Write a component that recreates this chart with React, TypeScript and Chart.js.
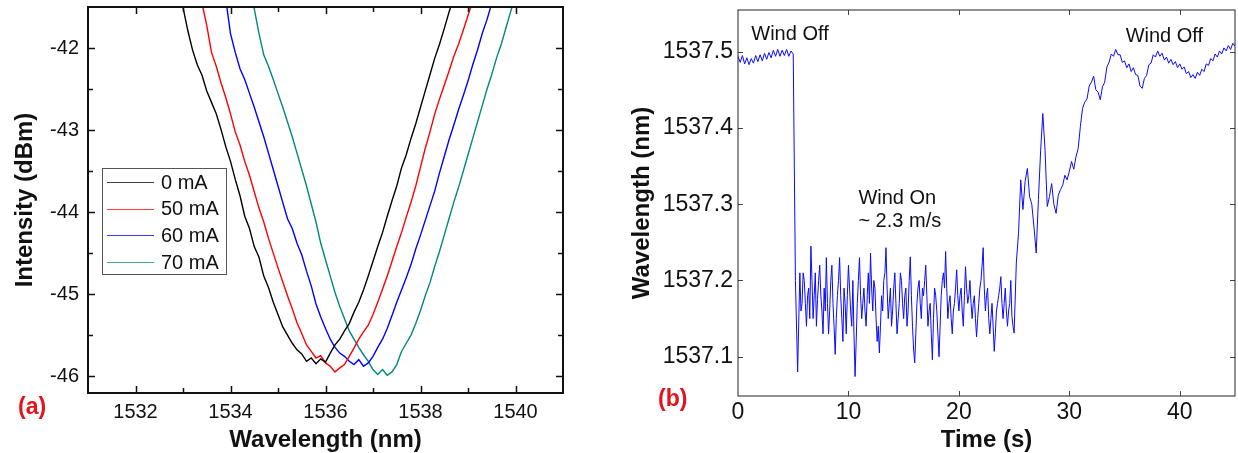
import React, { useEffect, useRef } from 'react';
import { Chart, registerables } from 'chart.js';

Chart.register(...registerables);

const FONT = '"Liberation Sans", Arial, Helvetica, sans-serif';

// ---------------- Panel (a): transmission spectra ----------------
const WAVELENGTH_NM = [
  1532.9, 1533.0, 1533.1, 1533.2, 1533.3, 1533.4, 1533.5, 1533.6, 1533.7, 1533.8,
  1533.9, 1534.0, 1534.1, 1534.2, 1534.3, 1534.4, 1534.5, 1534.6, 1534.7, 1534.8,
  1534.9, 1535.0, 1535.1, 1535.2, 1535.3, 1535.4, 1535.5, 1535.6, 1535.7, 1535.8,
  1535.9, 1536.0, 1536.1, 1536.2, 1536.3, 1536.4, 1536.5, 1536.6, 1536.7, 1536.8,
  1536.9, 1537.0, 1537.1, 1537.2, 1537.3, 1537.4, 1537.5, 1537.6, 1537.7, 1537.8,
  1537.9, 1538.0, 1538.1, 1538.2, 1538.3, 1538.4, 1538.5, 1538.6, 1538.7, 1538.8,
  1538.9, 1539.0, 1539.1, 1539.2, 1539.3, 1539.4, 1539.5, 1539.6, 1539.7, 1539.8,
  1539.9, 1540.0,
];

const INTENSITY_0MA = [
  -41.2, -41.5, -41.78, -42.02, -42.2, -42.33, -42.52, -42.66, -42.8, -42.99,
  -43.2, -43.38, -43.6, -43.8, -44.05, -44.2, -44.42, -44.55, -44.78, -44.92,
  -45.1, -45.25, -45.4, -45.5, -45.6, -45.68, -45.73, -45.82, -45.78, -45.85,
  -45.79, -45.83, -45.72, -45.62, -45.55, -45.45, -45.36, -45.22, -45.1, -44.95,
  -44.78, -44.6, -44.42, -44.25, -44.05, -43.86, -43.68, -43.46, -43.3, -43.1,
  -42.92, -42.72, -42.52, -42.32, -42.12, -41.95, -41.76, -41.56, -41.38,
  null, null, null, null, null, null, null, null, null, null, null, null, null,
];

const INTENSITY_50MA = [
  null, null, null, null,
  -41.1, -41.45, -41.72, -42.05, -42.22, -42.42, -42.6, -42.8, -43.02, -43.18,
  -43.38, -43.55, -43.75, -43.95, -44.12, -44.32, -44.5, -44.68, -44.85, -45.02,
  -45.18, -45.35, -45.48, -45.62, -45.7, -45.78, -45.75, -45.84, -45.88, -45.95,
  -45.9, -45.86, -45.76, -45.66, -45.55, -45.46, -45.38, -45.25, -45.1, -44.94,
  -44.78, -44.6, -44.42, -44.25, -44.06, -43.88, -43.68, -43.45, -43.22, -43.02,
  -42.8, -42.62, -42.45, -42.28, -42.1, -41.95, -41.78, -41.6, -41.42, -41.25,
  null, null, null, null, null, null, null, null,
];

const INTENSITY_60MA = [
  null, null, null, null, null, null, null, null, null,
  -41.1, -41.4, -41.82, -42.05, -42.25, -42.38, -42.55, -42.72, -42.9, -43.08,
  -43.28, -43.48, -43.68, -43.88, -44.08, -44.2, -44.38, -44.52, -44.72, -44.9,
  -45.12, -45.28, -45.42, -45.55, -45.65, -45.72, -45.76, -45.82, -45.86, -45.8,
  -45.88, -45.84, -45.76, -45.65, -45.55, -45.42, -45.26, -45.1, -44.95, -44.8,
  -44.64, -44.45, -44.28, -44.1, -43.92, -43.74, -43.52, -43.32, -43.12, -42.94,
  -42.75, -42.58, -42.4, -42.2, -42.02, -41.82, -41.65, -41.45, -41.25,
  null, null, null, null,
];

const INTENSITY_70MA = [
  null, null, null, null, null, null, null, null, null, null, null, null, null, null, null,
  -41.2, -41.52, -41.82, -42.08, -42.22, -42.38, -42.55, -42.72, -42.9, -43.08,
  -43.28, -43.48, -43.68, -43.9, -44.12, -44.38, -44.58, -44.78, -44.98, -45.15,
  -45.3, -45.45, -45.55, -45.65, -45.74, -45.82, -45.92, -45.98, -45.92, -45.99,
  -45.95, -45.86, -45.7, -45.6, -45.5, -45.36, -45.2, -45.02, -44.86, -44.66,
  -44.48, -44.28, -44.08, -43.88, -43.7, -43.5, -43.3, -43.1, -42.9, -42.7,
  -42.5, -42.32, -42.12, -41.95, -41.75, -41.55, -41.35,
];

const SERIES_LABELS = ['0 mA', '50 mA', '60 mA', '70 mA'];
const SERIES_COLORS = ['#000000', '#ff0000', '#0000ff', '#00897a'];
const SERIES_VALUES = [INTENSITY_0MA, INTENSITY_50MA, INTENSITY_60MA, INTENSITY_70MA];

const A_X_TICKS = [1532, 1534, 1536, 1538, 1540];
const A_X_MINOR = [1533, 1535, 1537, 1539];
const A_Y_TICKS = [-46, -45, -44, -43, -42];
const A_Y_MINOR = [-45.5, -44.5, -43.5, -42.5];

// ---------------- Panel (b): time trace ----------------
const TIME_S = [
  0, 0.2, 0.4, 0.6, 0.8, 1, 1.2, 1.4, 1.6, 1.8,
  2, 2.2, 2.4, 2.6, 2.8, 3, 3.2, 3.4, 3.6, 3.8,
  4, 4.2, 4.4, 4.6, 4.8, 5, 5.2, 5.4,
  5.6, 5.7, 5.8, 5.9,
  6, 6.1, 6.2, 6.3, 6.4, 6.5, 6.6, 6.7, 6.8, 6.9,
  7, 7.1, 7.2, 7.3, 7.4, 7.5, 7.6, 7.7, 7.8, 7.9,
  8, 8.1, 8.2, 8.3, 8.4, 8.5, 8.6, 8.7, 8.8, 8.9,
  9, 9.1, 9.2, 9.3, 9.4, 9.5, 9.6, 9.7, 9.8, 9.9,
  10, 10.1, 10.2, 10.3, 10.4, 10.5, 10.6, 10.7, 10.8, 10.9,
  11, 11.1, 11.2, 11.3, 11.4, 11.5, 11.6, 11.7, 11.8, 11.9,
  12, 12.1, 12.2, 12.3, 12.4, 12.5, 12.6, 12.7, 12.8, 12.9,
  13, 13.1, 13.2, 13.3, 13.4, 13.5, 13.6, 13.7, 13.8, 13.9,
  14, 14.1, 14.2, 14.3, 14.4, 14.5, 14.6, 14.7, 14.8, 14.9,
  15, 15.1, 15.2, 15.3, 15.4, 15.5, 15.6, 15.7, 15.8, 15.9,
  16, 16.1, 16.2, 16.3, 16.4, 16.5, 16.6, 16.7, 16.8, 16.9,
  17, 17.1, 17.2, 17.3, 17.4, 17.5, 17.6, 17.7, 17.8, 17.9,
  18, 18.1, 18.2, 18.3, 18.4, 18.5, 18.6, 18.7, 18.8, 18.9,
  19, 19.1, 19.2, 19.3, 19.4, 19.5, 19.6, 19.7, 19.8, 19.9,
  20, 20.1, 20.2, 20.3, 20.4, 20.5, 20.6, 20.7, 20.8, 20.9,
  21, 21.1, 21.2, 21.3, 21.4, 21.5, 21.6, 21.7, 21.8, 21.9,
  22, 22.1, 22.2, 22.3, 22.4, 22.5, 22.6, 22.7, 22.8, 22.9,
  23, 23.1, 23.2, 23.3, 23.4, 23.5, 23.6, 23.7, 23.8, 23.9,
  24, 24.1, 24.2, 24.3, 24.4, 24.5, 24.6, 24.7, 24.8, 24.9,
  25, 25.2, 25.4, 25.6, 25.8, 26, 26.2, 26.4, 26.6, 26.8,
  27, 27.2, 27.4, 27.6, 27.8, 28, 28.2, 28.4, 28.6, 28.8,
  29, 29.2, 29.4, 29.6, 29.8, 30, 30.2, 30.4, 30.6, 30.8,
  31, 31.2, 31.4, 31.6, 31.8, 32, 32.2, 32.4, 32.6, 32.8,
  33, 33.2, 33.4, 33.6, 33.8, 34, 34.2, 34.4, 34.6, 34.8,
  35, 35.2, 35.4, 35.6, 35.8, 36, 36.2, 36.4, 36.6, 36.8,
  37, 37.2, 37.4, 37.6, 37.8, 38, 38.2, 38.4, 38.6, 38.8,
  39, 39.2, 39.4, 39.6, 39.8, 40, 40.2, 40.4, 40.6, 40.8,
  41, 41.2, 41.4, 41.6, 41.8, 42, 42.2, 42.4, 42.6, 42.8,
  43, 43.2, 43.4, 43.6, 43.8, 44, 44.2, 44.4, 44.6, 44.8,
  45,
];

const PEAK_WAVELENGTH_NM = [
  1537.494, 1537.486, 1537.495, 1537.484, 1537.492, 1537.483, 1537.491, 1537.485, 1537.495, 1537.487,
  1537.496, 1537.488, 1537.498, 1537.49, 1537.499, 1537.492, 1537.502, 1537.494, 1537.503, 1537.494,
  1537.502, 1537.495, 1537.503, 1537.494, 1537.501, 1537.497, 1537.2, 1537.08,
  1537.21, 1537.16, 1537.17, 1537.21,
  1537.2, 1537.17, 1537.14, 1537.18, 1537.19, 1537.15, 1537.245, 1537.2, 1537.15, 1537.18,
  1537.21, 1537.14, 1537.175, 1537.2, 1537.22, 1537.18, 1537.16, 1537.13, 1537.19, 1537.16,
  1537.23, 1537.17, 1537.13, 1537.16, 1537.2, 1537.22, 1537.17, 1537.14, 1537.103, 1537.15,
  1537.18, 1537.2, 1537.23, 1537.18, 1537.15, 1537.12, 1537.19, 1537.17, 1537.13, 1537.18,
  1537.22, 1537.19, 1537.16, 1537.14, 1537.2, 1537.13, 1537.074, 1537.12, 1537.17, 1537.2,
  1537.23, 1537.18, 1537.15, 1537.17, 1537.19, 1537.16, 1537.14, 1537.18, 1537.21, 1537.17,
  1537.236, 1537.19, 1537.16, 1537.2, 1537.19, 1537.15, 1537.12, 1537.14, 1537.105, 1537.14,
  1537.18, 1537.16, 1537.2, 1537.21, 1537.243, 1537.19, 1537.15, 1537.17, 1537.19, 1537.14,
  1537.16, 1537.19, 1537.21, 1537.17, 1537.13, 1537.15, 1537.17, 1537.21, 1537.2, 1537.17,
  1537.15, 1537.18, 1537.19, 1537.14, 1537.16, 1537.2, 1537.231, 1537.18, 1537.14, 1537.11,
  1537.092, 1537.13, 1537.17, 1537.19, 1537.2, 1537.17, 1537.15, 1537.19, 1537.18, 1537.2,
  1537.22, 1537.18, 1537.14, 1537.16, 1537.17, 1537.13, 1537.096, 1537.15, 1537.19, 1537.18,
  1537.16, 1537.13, 1537.1, 1537.14, 1537.18, 1537.2, 1537.21, 1537.19, 1537.238, 1537.19,
  1537.15, 1537.17, 1537.18, 1537.15, 1537.13, 1537.16, 1537.17, 1537.19, 1537.214, 1537.18,
  1537.16, 1537.18, 1537.19, 1537.16, 1537.14, 1537.18, 1537.218, 1537.19, 1537.17, 1537.18,
  1537.2, 1537.17, 1537.15, 1537.17, 1537.18, 1537.15, 1537.126, 1537.15, 1537.17, 1537.19,
  1537.2, 1537.22, 1537.243, 1537.19, 1537.16, 1537.18, 1537.19, 1537.15, 1537.13, 1537.15,
  1537.17, 1537.14, 1537.107, 1537.13, 1537.16, 1537.17, 1537.18, 1537.19, 1537.205, 1537.17,
  1537.15, 1537.17, 1537.19, 1537.16, 1537.14, 1537.16, 1537.17, 1537.2, 1537.153, 1537.14,
  1537.131, 1537.223, 1537.262, 1537.332, 1537.293, 1537.33, 1537.347, 1537.31, 1537.3, 1537.27,
  1537.236, 1537.306, 1537.37, 1537.419, 1537.371, 1537.297, 1537.31, 1537.327, 1537.3, 1537.288,
  1537.312, 1537.319, 1537.325, 1537.338, 1537.332, 1537.343, 1537.356, 1537.346, 1537.362, 1537.373,
  1537.402, 1537.426, 1537.434, 1537.438, 1537.455, 1537.46, 1537.468, 1537.45, 1537.447, 1537.437,
  1537.454, 1537.46, 1537.48, 1537.486, 1537.497, 1537.494, 1537.503, 1537.496, 1537.496, 1537.486,
  1537.488, 1537.479, 1537.484, 1537.474, 1537.479, 1537.47, 1537.469, 1537.455, 1537.452, 1537.465,
  1537.469, 1537.483, 1537.485, 1537.496, 1537.493, 1537.501, 1537.494, 1537.498, 1537.489, 1537.493,
  1537.485, 1537.49, 1537.483, 1537.487, 1537.479, 1537.484, 1537.477, 1537.48, 1537.471, 1537.474,
  1537.466, 1537.47, 1537.465, 1537.473, 1537.469, 1537.477, 1537.474, 1537.484, 1537.482, 1537.491,
  1537.488, 1537.497, 1537.493, 1537.501, 1537.497, 1537.505, 1537.501, 1537.508, 1537.503, 1537.511,
  1537.507,
];

const B_X_TICKS = [0, 10, 20, 30, 40];
const B_Y_TICKS = [1537.1, 1537.2, 1537.3, 1537.4, 1537.5];

const B_NOTES = [
  { text: 'Wind Off', t: 1.2, v: 1537.522 },
  { text: 'Wind Off', t: 35.1, v: 1537.52 },
  { text: 'Wind On', t: 10.9, v: 1537.308 },
  { text: '~ 2.3 m/s', t: 10.9, v: 1537.277 },
];

// ---------------- plugins ----------------
type BoxOpts = {
  color: string;
  width: number;
  tickColor: string;
  tickWidth: number;
  xMajor: number[];
  xMinor: number[];
  yMajor: number[];
  yMinor: number[];
  majorLen: number;
  minorLen: number;
  panelLabel: string;
  labelX: number;
  labelY: number;
};

const makeBoxPlugin = (o: BoxOpts) => ({
  id: 'boxTicks',
  afterDatasetsDraw(chart: any) {
    const { ctx, chartArea, scales } = chart;
    const { left, right, top, bottom } = chartArea;
    const xs = scales.x;
    const ys = scales.y;
    ctx.save();
    ctx.strokeStyle = o.tickColor;
    ctx.lineWidth = o.tickWidth;
    ctx.beginPath();
    const vx = (vals: number[], len: number) => {
      vals.forEach((v) => {
        const p = Math.round(xs.getPixelForValue(v)) + 0.5;
        ctx.moveTo(p, bottom);
        ctx.lineTo(p, bottom - len);
        ctx.moveTo(p, top);
        ctx.lineTo(p, top + len);
      });
    };
    const vy = (vals: number[], len: number) => {
      vals.forEach((v) => {
        const p = Math.round(ys.getPixelForValue(v)) + 0.5;
        ctx.moveTo(left, p);
        ctx.lineTo(left + len, p);
        ctx.moveTo(right, p);
        ctx.lineTo(right - len, p);
      });
    };
    vx(o.xMajor, o.majorLen);
    vx(o.xMinor, o.minorLen);
    vy(o.yMajor, o.majorLen);
    vy(o.yMinor, o.minorLen);
    ctx.stroke();
    ctx.strokeStyle = o.color;
    ctx.lineWidth = o.width;
    ctx.strokeRect(left, top, right - left, bottom - top);
    ctx.fillStyle = '#e3121b';
    ctx.font = `bold 23px ${FONT}`;
    ctx.textAlign = 'left';
    ctx.textBaseline = 'middle';
    ctx.fillText(o.panelLabel, o.labelX, o.labelY);
    ctx.restore();
  },
});

const legendPlugin = {
  id: 'insetLegend',
  afterDraw(chart: any) {
    const { ctx } = chart;
    const bx = 102;
    const by = 168;
    const bw = 124;
    const bh = 106;
    ctx.save();
    ctx.fillStyle = '#ffffff';
    ctx.fillRect(bx, by, bw, bh);
    ctx.strokeStyle = '#555555';
    ctx.lineWidth = 1;
    ctx.strokeRect(bx + 0.5, by + 0.5, bw, bh);
    ctx.font = `20px ${FONT}`;
    ctx.textBaseline = 'middle';
    ctx.textAlign = 'left';
    chart.data.datasets.forEach((ds: any, i: number) => {
      const yy = by + 14 + i * 26.7;
      ctx.strokeStyle = ds.borderColor;
      ctx.globalAlpha = 0.75;
      ctx.lineWidth = 1;
      ctx.beginPath();
      ctx.moveTo(bx + 5, Math.round(yy) + 0.5);
      ctx.lineTo(bx + 52, Math.round(yy) + 0.5);
      ctx.stroke();
      ctx.globalAlpha = 1;
      ctx.fillStyle = '#111111';
      ctx.fillText(ds.label, bx + 59, yy + 1);
    });
    ctx.restore();
  },
};

const notesPlugin = {
  id: 'notes',
  afterDraw(chart: any) {
    const { ctx, scales } = chart;
    ctx.save();
    ctx.font = `20px ${FONT}`;
    ctx.fillStyle = '#111111';
    ctx.textAlign = 'left';
    ctx.textBaseline = 'middle';
    B_NOTES.forEach((n) => {
      ctx.fillText(n.text, scales.x.getPixelForValue(n.t), scales.y.getPixelForValue(n.v));
    });
    ctx.restore();
  },
};

const tickList = (vals: number[]) => (scale: any) => {
  scale.ticks = vals.map((v) => ({ value: v }));
};

const fixSize = (prop: 'width' | 'height', size: number) => (s: any) => {
  s[prop] = size;
  s.paddingTop = 0;
  s.paddingBottom = 0;
  s.paddingLeft = 0;
  s.paddingRight = 0;
};

function leftConfig(): any {
  return {
    type: 'line',
    data: {
      datasets: SERIES_VALUES.map((vals, i) => ({
        label: SERIES_LABELS[i],
        data: WAVELENGTH_NM.map((x, k) => ({ x, y: vals[k] })),
        borderColor: SERIES_COLORS[i],
        borderWidth: 1.4,
        pointRadius: 0,
        fill: false,
        tension: 0,
        spanGaps: false,
      })),
    },
    options: {
      animation: false,
      responsive: false,
      devicePixelRatio: 1,
      layout: { padding: { left: 0, top: 7, right: 37, bottom: 0 } },
      plugins: { legend: { display: false }, tooltip: { enabled: false } },
      scales: {
        x: {
          type: 'linear',
          min: 1531,
          max: 1541,
          afterBuildTicks: tickList(A_X_TICKS),
          afterFit: fixSize('height', 60),
          grid: { display: false, drawTicks: false },
          border: { display: false },
          ticks: {
            color: '#111',
            padding: 7,
            maxRotation: 0,
            autoSkip: false,
            font: { family: FONT, size: 20 },
            callback: (v: number) => String(v),
          },
          title: {
            display: true,
            text: 'Wavelength (nm)',
            color: '#111',
            font: { family: FONT, size: 24, weight: 'bold', lineHeight: 1 },
            padding: { top: 0, bottom: 1 },
          },
        },
        y: {
          type: 'linear',
          min: -46.207,
          max: -41.496,
          afterBuildTicks: tickList(A_Y_TICKS),
          afterFit: fixSize('width', 88),
          grid: { display: false, drawTicks: false },
          border: { display: false },
          ticks: {
            color: '#111',
            padding: 9,
            autoSkip: false,
            font: { family: FONT, size: 20 },
            callback: (v: number) => String(v),
          },
          title: {
            display: true,
            text: 'Intensity (dBm)',
            color: '#111',
            font: { family: FONT, size: 24, weight: 'bold', lineHeight: 1 },
            padding: { top: 13, bottom: 0 },
          },
        },
      },
    },
    plugins: [
      makeBoxPlugin({
        color: '#111',
        width: 2,
        tickColor: '#111',
        tickWidth: 1.5,
        xMajor: A_X_TICKS,
        xMinor: A_X_MINOR,
        yMajor: A_Y_TICKS,
        yMinor: A_Y_MINOR,
        majorLen: 7,
        minorLen: 5,
        panelLabel: '(a)',
        labelX: 18,
        labelY: 408,
      }),
      legendPlugin,
    ],
  };
}

function rightConfig(): any {
  return {
    type: 'line',
    data: {
      datasets: [
        {
          label: 'Wavelength',
          data: TIME_S.map((x, k) => ({ x, y: PEAK_WAVELENGTH_NM[k] })),
          borderColor: '#0a0aff',
          borderWidth: 1,
          pointRadius: 0,
          fill: false,
          tension: 0,
        },
      ],
    },
    options: {
      animation: false,
      responsive: false,
      devicePixelRatio: 1,
      layout: { padding: { left: 0, top: 10, right: 3, bottom: 0 } },
      plugins: { legend: { display: false }, tooltip: { enabled: false } },
      scales: {
        x: {
          type: 'linear',
          min: 0,
          max: 45,
          afterBuildTicks: tickList(B_X_TICKS),
          afterFit: fixSize('height', 57),
          grid: { display: false, drawTicks: false },
          border: { display: false },
          ticks: {
            color: '#111',
            padding: 3,
            maxRotation: 0,
            autoSkip: false,
            font: { family: FONT, size: 23 },
            callback: (v: number) => String(v),
          },
          title: {
            display: true,
            text: 'Time (s)',
            color: '#111',
            font: { family: FONT, size: 24, weight: 'bold', lineHeight: 1 },
            padding: { top: 0, bottom: 1 },
          },
        },
        y: {
          type: 'linear',
          min: 1537.0485,
          max: 1537.5547,
          afterBuildTicks: tickList(B_Y_TICKS),
          afterFit: fixSize('width', 138),
          grid: { display: false, drawTicks: false },
          border: { display: false },
          ticks: {
            color: '#111',
            padding: 5,
            autoSkip: false,
            font: { family: FONT, size: 23 },
            callback: (v: number) => v.toFixed(1),
          },
          title: {
            display: true,
            text: 'Wavelength (nm)',
            color: '#111',
            font: { family: FONT, size: 24, weight: 'bold', lineHeight: 1 },
            padding: { top: 30, bottom: 0 },
          },
        },
      },
    },
    plugins: [
      makeBoxPlugin({
        color: '#222',
        width: 1,
        tickColor: '#444',
        tickWidth: 1,
        xMajor: B_X_TICKS.slice(1),
        xMinor: [],
        yMajor: B_Y_TICKS,
        yMinor: [],
        majorLen: 5,
        minorLen: 0,
        panelLabel: '(b)',
        labelX: 58,
        labelY: 400,
      }),
      notesPlugin,
    ],
  };
}

export default function App() {
  const leftRef = useRef<HTMLCanvasElement>(null);
  const rightRef = useRef<HTMLCanvasElement>(null);

  useEffect(() => {
    const a = new Chart(leftRef.current as HTMLCanvasElement, leftConfig());
    const b = new Chart(rightRef.current as HTMLCanvasElement, rightConfig());
    return () => {
      a.destroy();
      b.destroy();
    };
  }, []);

  return (
    <div style={{ position: 'absolute', left: 0, top: 0, width: 1238, height: 453, background: '#fff' }}>
      <canvas ref={leftRef} width={600} height={453} style={{ position: 'absolute', left: 0, top: 0 }} />
      <canvas ref={rightRef} width={638} height={453} style={{ position: 'absolute', left: 600, top: 0 }} />
    </div>
  );
}
